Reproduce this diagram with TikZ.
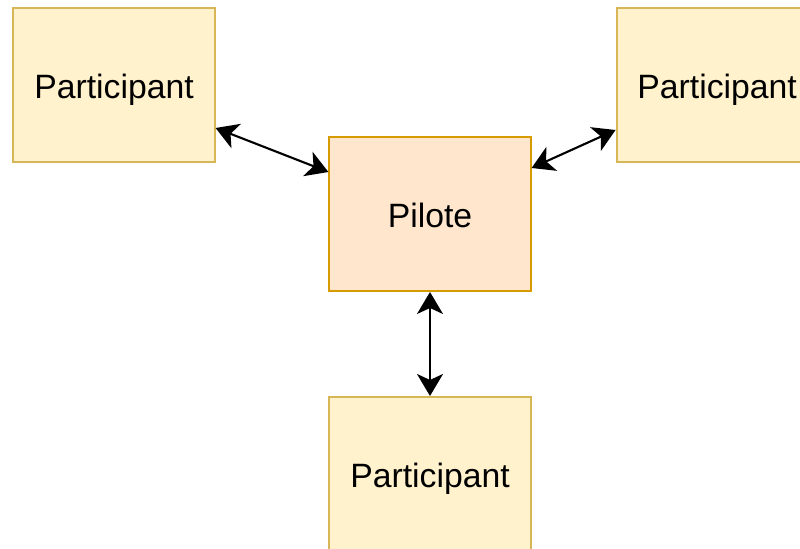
\documentclass[tikz,border=0pt]{standalone}
\usepackage{fontspec}
\setmainfont{Liberation Sans}
\usepackage{tikz}
\usetikzlibrary{positioning,arrows.meta}
\definecolor{partfill}{HTML}{FFF2CC}
\definecolor{partline}{HTML}{D6B656}
\definecolor{pilotfill}{HTML}{FFE6CC}
\definecolor{pilotline}{HTML}{D79B00}

\begin{document}
\begin{tikzpicture}[
    node distance=2.6cm,  % gap between the boxes
    box/.style = {draw, line width=1.4pt, minimum width=5.03cm, minimum height=3.85cm,
                  inner sep=0pt, text height=19pt, text depth=0pt,
                  font=\fontsize{24}{28}\selectfont},
    part/.style = {box, fill=partfill, draw=partline},
    pilot/.style = {box, fill=pilotfill, draw=pilotline},
    link/.style = {{Stealth[length=0.55cm,width=0.65cm,inset=0.15cm]}-{Stealth[length=0.55cm,width=0.65cm,inset=0.15cm]}, line width=1.5pt}
  ]
    \useasboundingbox (-10.75,-8.35) rectangle (9.25,5.35);
    \node[pilot] (pilote) at (0,0) {Pilote};
    \node[part] (left) [left=of pilote, xshift=-0.22cm, yshift=3.225cm] {Participant};   % up and to the left
    \node[part] (right) [right=of pilote, xshift=-0.5cm, yshift=3.225cm] {Participant};  % a bit closer
    \node[part] (bottom) [below=of pilote] {Participant};

    \draw[link] ([yshift=-1.075cm]left.east) -- ([yshift=1.05cm]pilote.west);
    \draw[link] ([yshift=1.15cm]pilote.east) -- ([yshift=-1.125cm]right.west);
    \draw[link] (pilote) -- (bottom);
  \end{tikzpicture}
\end{document}
